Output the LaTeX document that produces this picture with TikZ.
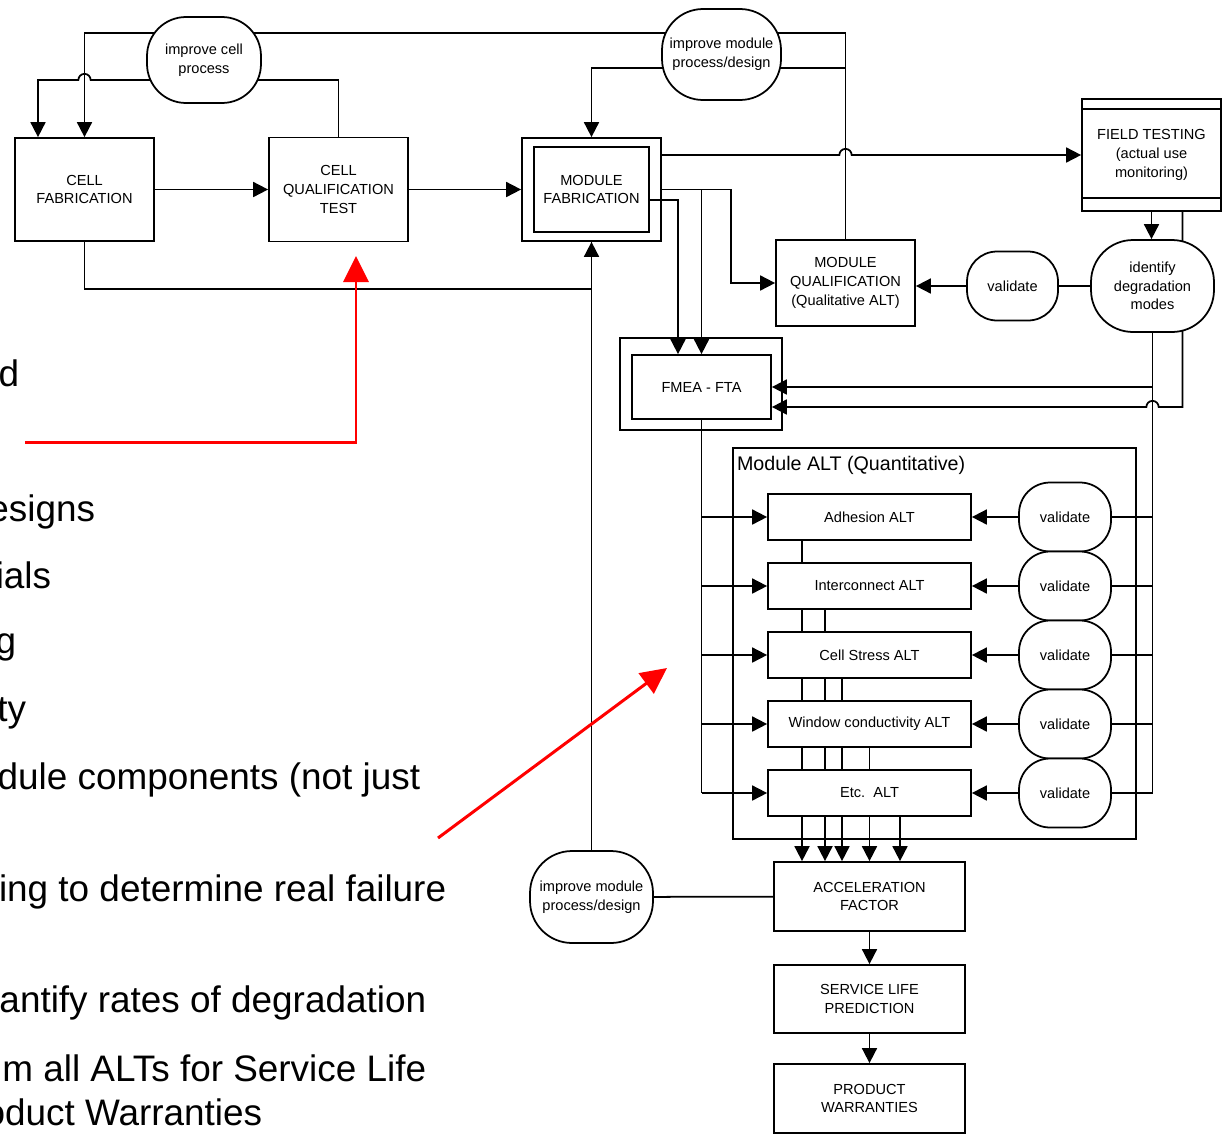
\documentclass[tikz,border=0pt]{standalone}
\usepackage{fontspec}
\setmainfont{Liberation Sans}
\usetikzlibrary{arrows.meta,positioning,backgrounds}

\newcommand{\boxfont}{\fontsize{8.3}{10.6}\selectfont}
\newcommand{\slidefont}{\fontsize{21}{24}\selectfont}

\begin{document}
\begin{tikzpicture}[x=0.02cm,y=-0.02cm,line width=1pt,on grid,
  arr/.style={-{Triangle[length=0.3cm,width=0.3cm]}},
  redarr/.style={draw=red,line width=1.7pt,-{Triangle[length=0.52cm,width=0.5cm]}},
  procbox/.style={draw,fill=white,align=center,font=\boxfont,inner sep=1pt},
  outerbox/.style={draw,inner sep=0pt},
  term/.style={draw,fill=white,align=center,font=\boxfont,inner sep=1pt,rounded corners=#1},
  term/.default=0.6cm,
  slide/.style={anchor=base east,inner sep=0pt,font=\slidefont}]
  \useasboundingbox (0,0) rectangle (1224,1133);

  % slide text
  \node[slide] (tD)   at (20,386)   {d};
  \node[slide] (tDes) at (96,521)   {esigns};
  \node[slide] (tMat) at (52,588)   {ials};
  \node[slide] (tG)   at (17,653)   {g};
  \node[slide] (tTy)  at (27,721)   {ty};
  \node[slide] (tCmp) at (421,789)  {dule components (not just};
  \node[slide] (tFld) at (447,901)  {ing to determine real failure};
  \node[slide] (tRat) at (427,1012) {antify rates of degradation};
  \node[slide] (tAll) at (427,1081) {m all ALTs for Service Life};
  \node[slide] (tWar) at (263,1125) {oduct Warranties};

  % cell process
  \node[procbox,minimum width=2.78cm,minimum height=2.06cm] (cellfab) at (84.5,189.5) {CELL\\FABRICATION};
  \node[procbox,minimum width=2.78cm,minimum height=2.08cm] (cellqual) at (338.5,189.5) {CELL\\QUALIFICATION\\TEST};
  \node[term=0.78cm,minimum width=2.28cm,minimum height=1.72cm] (cellimp) at (204,60) {improve cell\\process};

  % module process
  \node[outerbox,minimum width=2.78cm,minimum height=2.06cm] (modfabO) at (591.5,189.5) {};
  \node[procbox,minimum width=2.3cm,minimum height=1.7cm] (modfab) at (modfabO) {MODULE\\FABRICATION};
  \node[term=0.82cm,minimum width=2.38cm,minimum height=1.82cm] (modimp) at (721.5,54.5) {improve module\\process/design};
  \node[procbox,minimum width=2.78cm,minimum height=1.72cm] (modqual) at (845.5,283) {MODULE\\QUALIFICATION\\(Qualitative ALT)};
  \node[term,minimum width=1.82cm,minimum height=1.38cm] (valq) at (1012.5,286) {validate};

  % field testing
  \node[procbox,minimum width=2.78cm,minimum height=2.24cm] (field) at (1151.5,155) {FIELD TESTING\\(actual use\\monitoring)};
  \draw ([yshift=-.22cm]field.north west) -- ([yshift=-.22cm]field.north east);
  \draw ([yshift=.28cm]field.south west) -- ([yshift=.28cm]field.south east);
  \node[term=0.84cm,minimum width=2.46cm,minimum height=1.84cm] (ident) at (1152.5,286) {identify\\degradation\\modes};

  % FMEA
  \node[outerbox,minimum width=3.24cm,minimum height=1.84cm] (fmeaO) at (701,384) {};
  \node[procbox,minimum width=2.78cm,minimum height=1.28cm] (fmea) at (701.5,387) {FMEA - FTA};

  % quantitative ALTs
  \node[outerbox,minimum width=8.06cm,minimum height=7.82cm] (altc) at (934.5,643.5) {};
  \node[anchor=base west,inner sep=0pt,font=\fontsize{11.2}{13}\selectfont] (alttitle)
    at ([xshift=.08cm,yshift=-.46cm]altc.north west) {Module ALT (Quantitative)};
  \foreach \i/\y/\txt in {1/517/Adhesion ALT,2/586/Interconnect ALT,3/655/Cell Stress ALT,
                          4/724/Window conductivity ALT,5/793/Etc.\ \ ALT}{
    \node[procbox,minimum width=4.06cm,minimum height=0.92cm] (alt\i) at (869.5,\y) {\txt};
    \node[term=0.62cm,minimum width=1.84cm,minimum height=1.38cm] (val\i) at (1065,\y) {validate};
  }

  % results
  \node[procbox,minimum width=3.82cm,minimum height=1.38cm] (accel) at (869.5,896.5) {ACCELERATION\\FACTOR};
  \node[procbox,minimum width=3.82cm,minimum height=1.36cm] (service) [below=2.05cm of accel] {SERVICE LIFE\\PREDICTION};
  \node[procbox,minimum width=3.82cm,minimum height=1.38cm] (product) [below=1.99cm of service] {PRODUCT\\WARRANTIES};
  \node[term=0.84cm,minimum width=2.46cm,minimum height=1.84cm] (modimp2) at (591.5,897) {improve module\\process/design};

  \coordinate (ciL) at ([yshift=-.4cm]cellimp.center);
  \coordinate (hop1) at (cellfab.north |- ciL);
  \coordinate (miR) at ([yshift=-.27cm]modimp.center);
  \coordinate (hop2) at (modqual.north |- field.west);
  \coordinate (fmeaIn) at ([yshift=-.4cm]fmea.east);
  \coordinate (hop3) at (ident.south |- fmeaIn);

  \begin{scope}[on background layer]
  \begin{scope}[line width=1pt]
    % cell side
    \draw[arr] (cellfab) -- (cellqual);
    \draw[arr] (cellqual) -- (modfabO);
    \draw (cellqual.north) |- (ciL);
    \draw[arr] (ciL) -- ([xshift=3.5pt]hop1) arc[start angle=0,end angle=180,radius=3.5pt]
      -| ([xshift=-.93cm]cellfab.north);
    \draw[arr] (modqual.north) -- ++(0,-206) -| (cellfab.north);
    \draw (cellfab.south) -- ++(0,47) -| (modfabO.south);
    % module side
    \draw (modqual.north) |- (miR);
    \draw[arr] (miR) -| (modfabO.north);
    \draw[arr] (modfabO.east |- field.west) -- ([xshift=-3.5pt]hop2)
      arc[start angle=180,end angle=0,radius=3.5pt] -- (field.west);
    \draw[arr] (modfabO.east) -- ++(69,0) |- (modqual.west);
    \draw[arr] (modfabO.east) -| (fmea.north);
    \draw[arr] ([yshift=-.21cm]modfab.east) -| ([xshift=-.47cm]fmea.north);
    \draw[arr] (modimp2) -- (modfabO);
    % field testing and degradation modes
    \draw[arr] (field.south) -- (field.south |- ident.north);
    \draw (ident) -- (valq);
    \draw[arr] (valq.west) -- (valq.west -| modqual.east);
    \draw[arr] (ident.south) |- (fmea.east);
    \draw[arr] ([xshift=.62cm]field.south) |- ([xshift=3.5pt]hop3)
      arc[start angle=0,end angle=180,radius=3.5pt] -- (fmeaIn);
    \draw (ident.south) -- (ident.south |- val5);
    % ALTs
    \draw (fmea.south) -- (fmea.south |- alt5);
    \foreach \i in {1,...,5}{
      \draw[arr] (fmea.south |- alt\i) -- (alt\i.west);
      \draw[arr] (val\i) -- (alt\i);
      \draw (val\i) -- (ident.south |- val\i);
    }
    \foreach \i/\dx in {1/-1.35,2/-0.89,3/-0.55,4/0,5/0.61}
      \draw[arr] ([xshift=\dx cm]alt\i.south) -- ([xshift=\dx cm]accel.north);
    \draw (modimp2) -- (accel);
    \draw[arr] (accel) -- (service);
    \draw[arr] (service) -- (product);
  \end{scope}
  \end{scope}

  % red pointers
  \coordinate (redA) at (25,442);
  \coordinate (redAtip) at (356,256);
  \draw[redarr] (redA) -| (redAtip);
  \coordinate (redB) at (438,838);
  \coordinate (redBtip) at (667,668);
  \draw[redarr] (redB) -- (redBtip);
\end{tikzpicture}
\end{document}
